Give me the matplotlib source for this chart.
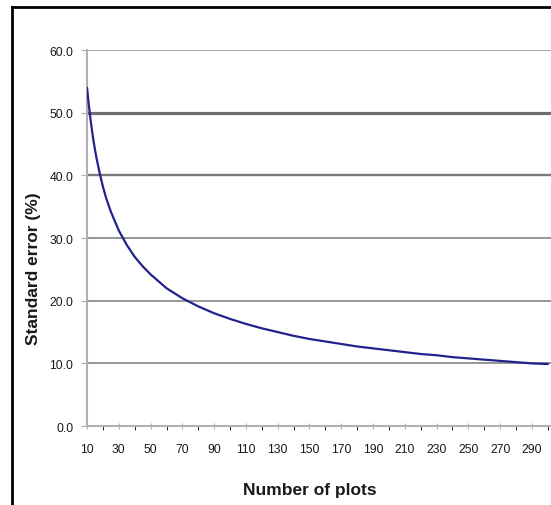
import matplotlib
matplotlib.use("Agg")
import matplotlib.pyplot as plt
from matplotlib.lines import Line2D

# data (denser near the start where the curve is steep)
n_plots = [10, 11, 12, 13, 14, 15, 16, 18, 20, 22, 25, 30, 35, 40, 45, 50, 60, 70, 80, 90, 100,
           110, 120, 130, 140, 150, 160, 170, 180, 190, 200, 210, 220, 230, 240, 250,
           260, 270, 280, 290, 300]
std_error = [54.0, 51.5, 49.3, 47.4, 45.6, 44.1, 42.7, 40.3, 38.2, 36.4, 34.2, 31.2, 28.9, 27.0, 25.5,
             24.2, 22.0, 20.4, 19.1, 18.0, 17.1, 16.3, 15.6, 15.0, 14.4, 13.9, 13.5, 13.1, 12.7,
             12.4, 12.1, 11.8, 11.5, 11.3, 11.0, 10.8, 10.6, 10.4, 10.2, 10.0, 9.9]
x_ticks = list(range(10, 300, 20))
y_ticks = [0, 10, 20, 30, 40, 50, 60]

plt.rcParams['font.family'] = ['Liberation Sans', 'DejaVu Sans']

fig = plt.figure(figsize=(5.51, 5.06), dpi=100)
ax = fig.add_axes([0.158, 0.156, 0.842, 0.743])

# gridlines, the 50 and 40 lines look heavier in the original
grid_style = {60: ('#a8a8a8', 1.5), 50: ('#6e6e6e', 2.3), 40: ('#7a7a7a', 1.7),
              30: ('#8c8c8c', 1.3), 20: ('#8c8c8c', 1.3), 10: ('#8c8c8c', 1.3)}
for y in y_ticks[1:]:
    c, w = grid_style[y]
    ax.axhline(y, color=c, lw=w, zorder=1)

ax.plot(n_plots, std_error, color='#22228c', lw=1.6, zorder=3, solid_capstyle='round')

ax.set_xlim(10, 302)
ax.set_ylim(0, 60)
ax.set_xticks(x_ticks)
ax.set_xticks(list(range(20, 301, 20)), minor=True)
ax.set_yticks(y_ticks)
ax.set_yticklabels([f"{v:.1f}" for v in y_ticks])

for s in ['top', 'right']:
    ax.spines[s].set_visible(False)
for s in ['left', 'bottom']:
    ax.spines[s].set_color('#b0b0b0')
    ax.spines[s].set_linewidth(1.5)

ax.tick_params(axis='both', colors='#b0b0b0', labelcolor='#1a1a1a', labelsize=8.8)
ax.tick_params(axis='x', which='major', length=5, direction='inout', pad=10)
ax.tick_params(axis='x', which='minor', length=3, direction='out')
ax.tick_params(axis='y', length=4, direction='out', pad=6)

ax.set_ylabel("Standard error (%)", fontsize=12.5, fontweight='bold', color='#1a1a1a')
ax.set_xlabel("Number of plots", fontsize=12.5, fontweight='bold', color='#1a1a1a')
ax.yaxis.set_label_coords(-0.116, 0.42)
ax.yaxis.label.set_va('center')
ax.xaxis.set_label_coords(0.48, -0.168)
ax.xaxis.label.set_va('center')

# black frame around the picture (left and top edges)
fig.add_artist(Line2D([0.022, 0.022], [0.0, 0.985], color='black', lw=2, transform=fig.transFigure))
fig.add_artist(Line2D([0.021, 1.0], [0.985, 0.985], color='black', lw=2, transform=fig.transFigure))

fig.savefig("out.png", dpi=100)
